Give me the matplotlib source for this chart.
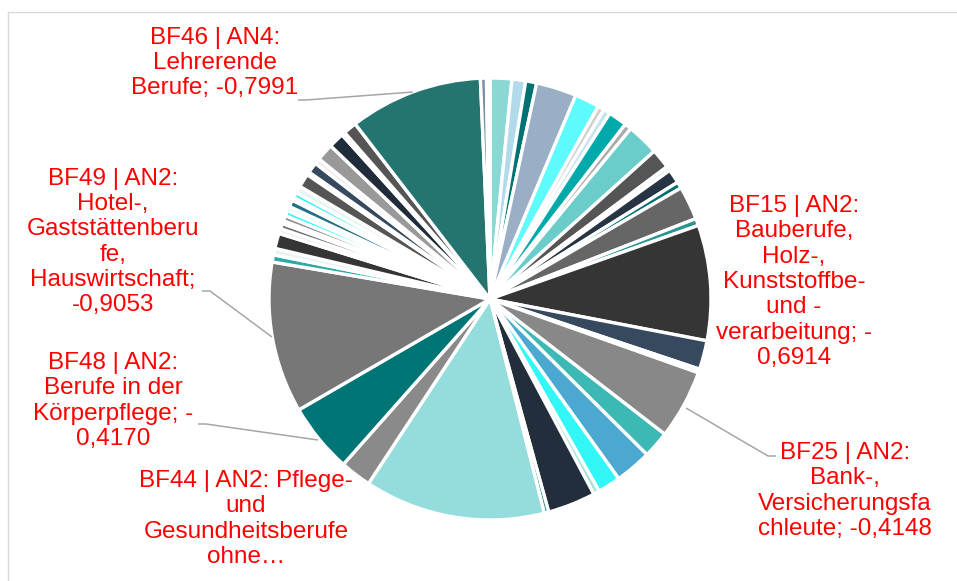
import matplotlib.pyplot as plt

plt.rcParams['font.family'] = ['Liberation Sans', 'DejaVu Sans']

W, H = 957, 581

# Beträge der Koeffizienten, im Uhrzeigersinn ab 12 Uhr
werte = [0.130, 0.082, 0.066, 0.242, 0.148, 0.039, 0.041, 0.112, 0.041, 0.192,
         0.119, 0.027, 0.084, 0.039, 0.201, 0.043, 0.6914, 0.173, 0.023, 0.4148,
         0.160, 0.219, 0.137, 0.036, 0.287, 0.027, 1.0832, 0.187, 0.4170, 0.9053,
         0.043, 0.039, 0.091, 0.030, 0.032, 0.018, 0.032, 0.032, 0.027, 0.041,
         0.018, 0.032, 0.043, 0.082, 0.018, 0.064, 0.034, 0.103, 0.093, 0.021,
         0.080, 0.7991, 0.036, 0.021]

farben = ['#8AD8D4', '#B3DAEA', '#007272', '#9AAEC6', '#5DFBFB', '#D0D0D0',
          '#C4E4F0', '#00AAAA', '#AAAAAA', '#6ACDC9', '#555555', '#E0F0F4',
          '#263444', '#006E6E', '#666666', '#2A9490', '#353535', '#36495E',
          '#CFE6EE', '#888888', '#3DB9B5', '#4BA9D1', '#33F7F7', '#A6E1DD',
          '#222E3C', '#2E8A8A', '#95DCDC', '#8A8A8A', '#007575', '#777777',
          '#30A8A8', '#E8F4F4', '#353535', '#EEEEEE', '#707070', '#EEEEEE',
          '#909090', '#33FFFF', '#E0FAFA', '#20708A', '#EEEEEE', '#3CF0F0',
          '#E8F4F4', '#555555', '#EEEEEE', '#36495E', '#EEEEEE', '#999999',
          '#202C3A', '#EEEEEE', '#555555', '#247570', '#7A8EA8', '#E0EAF0']

# Beschriftete Segmente: Text und Position (Pixel)
labels = [
    ("BF46 | AN4:\nLehrerende\nBerufe; -0,7991", 215, 63),
    ("BF49 | AN2:\nHotel-,\nGaststättenberu\nfe,\nHauswirtschaft;\n-0,9053", 113, 242),
    ("BF48 | AN2:\nBerufe in der\nKörperpflege; -\n0,4170", 113, 401),
    ("BF44 | AN2: Pflege-\nund\nGesundheitsberufe\nohne…", 246, 519),
    ("BF15 | AN2:\nBauberufe,\nHolz-,\nKunststoffbe-\nund -\nverarbeitung; -\n0,6914", 794, 282),
    ("BF25 | AN2:\nBank-,\nVersicherungsfa\nchleute; -0,4148", 845, 491),
]

# Führungslinien (Pixel)
leader = [
    [(298, 100), (306, 100), (413, 92)],
    [(202, 291), (210, 291), (272, 337)],
    [(198, 424), (206, 424), (318, 440)],
    [(686, 408), (768, 456), (776, 456)],
]

fig = plt.figure(figsize=(W / 100, H / 100), dpi=100)
ax = fig.add_axes([0, 0, 1, 1])

ax.pie(werte, colors=farben, startangle=90, counterclock=False,
       center=(490, H - 299), radius=221,
       wedgeprops=dict(edgecolor='white', linewidth=2.4))

for pts in leader:
    xs = [p[0] for p in pts]
    ys = [H - p[1] for p in pts]
    ax.plot(xs, ys, color='#A6A6A6', lw=1.1, solid_capstyle='butt')

for txt, x, y in labels:
    ax.text(x, H - y, txt, color='#FF0000', fontsize=17.5,
            ha='center', va='center', multialignment='center', linespacing=1.2)

# Rahmen des Diagrammbereichs
ax.plot([8, W], [H - 12, H - 12], color='#D9D9D9', lw=1)
ax.plot([8, 8], [H - 12, 0], color='#D9D9D9', lw=1)

ax.set_xlim(0, W)
ax.set_ylim(0, H)
ax.set_aspect('equal')
ax.axis('off')

fig.savefig('out.png', dpi=100)
